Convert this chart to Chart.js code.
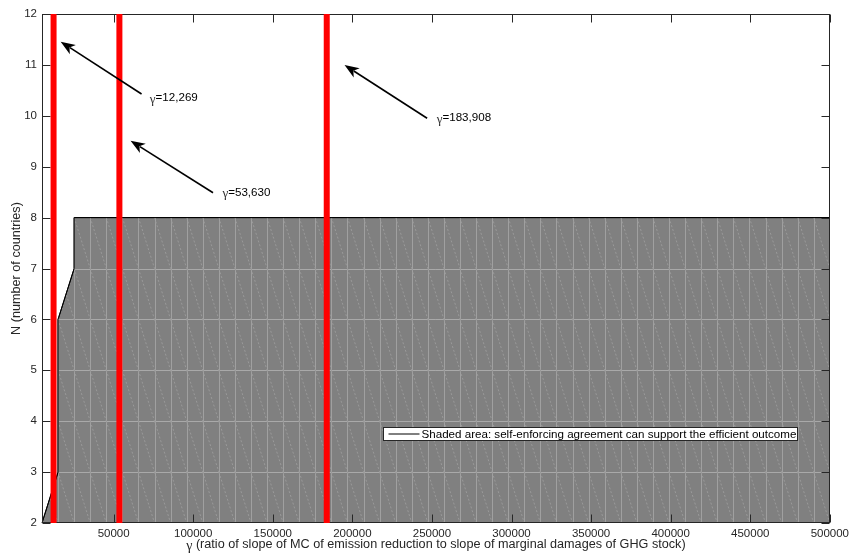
<!DOCTYPE html>
<html>
<head>
<meta charset="utf-8">
<script src="https://cdn.jsdelivr.net/npm/chart.js@4"></script>
<style>
  html, body { margin: 0; padding: 0; background: #ffffff; }
  #wrap { width: 853px; height: 556px; }
</style>
</head>
<body>
<div id="wrap"><canvas id="c" width="853" height="556"></canvas></div>
<script>
// Upper boundary of the region where a self-enforcing agreement supports the efficient outcome
const regionGamma = [5000, 15102, 15102, 25204, 25204, 500000];
const regionN = [2, 3, 6, 7, 8, 8];

// Critical values of gamma marked with vertical red lines
const thresholds = [12269, 53630, 183908];

// Axis ticks
const xTicks = [50000, 100000, 150000, 200000, 250000, 300000, 350000, 400000, 450000, 500000];
const yTicks = [2, 3, 4, 5, 6, 7, 8, 9, 10, 11, 12];

const X_MIN = 5000, X_MAX = 500000, Y_MIN = 2, Y_MAX = 12;
const AXIS_COLOR = '#262626';
const SANS = '"Liberation Sans", Arial, Helvetica, sans-serif';
const SERIF = '"Liberation Serif", "DejaVu Serif", serif';
const TICK_SIZE = 11.5;
const TITLE_SIZE = 12.65;
const NOTE_SIZE = 11.6;

// Arrow callouts (tip, tail and label anchor in data units), one per threshold
const callouts = [
  { tip: [16732, 11.456], tail: [67547, 10.428], label: [72754, 10.344] },
  { tip: [60646, 9.511], tail: [112467, 8.489], label: [118363, 8.489] },
  { tip: [195088, 10.998], tail: [246970, 9.951], label: [252993, 9.951] }
];

const fmt = v => v.toLocaleString('en-US');

const datasets = thresholds.map(g => ({
  type: 'line',
  label: 'gamma = ' + fmt(g),
  data: [{ x: g, y: Y_MIN }, { x: g, y: Y_MAX }],
  borderColor: '#ff0000',
  borderWidth: 6,
  pointRadius: 0,
  fill: false,
  order: 0
}));

datasets.push({
  type: 'line',
  label: 'Shaded area: self-enforcing agreement can support the efficient outcome',
  data: regionGamma.map((g, i) => ({ x: g, y: regionN[i] })),
  borderColor: '#000000',
  borderWidth: 1,
  backgroundColor: '#808080',
  pointRadius: 0,
  tension: 0,
  fill: 'start',
  order: 1,
  isRegion: true
});

function regionPath(ctx, xs, ys) {
  ctx.beginPath();
  ctx.moveTo(xs.getPixelForValue(regionGamma[0]), ys.getPixelForValue(Y_MIN));
  regionGamma.forEach((g, i) => ctx.lineTo(xs.getPixelForValue(g), ys.getPixelForValue(regionN[i])));
  ctx.lineTo(xs.getPixelForValue(regionGamma[regionGamma.length - 1]), ys.getPixelForValue(Y_MIN));
  ctx.closePath();
}

// Faceted texture of the filled patch, axes box and inward tick marks
const patchAndFrame = {
  id: 'patchAndFrame',
  afterDatasetDraw(chart, args) {
    if (!chart.data.datasets[args.index].isRegion) return;
    const ctx = chart.ctx, xs = chart.scales.x, ys = chart.scales.y;
    const a = chart.chartArea;

    ctx.save();
    regionPath(ctx, xs, ys);
    ctx.clip();
    const cols = 49;
    const step = (X_MAX - X_MIN) / cols;
    const yTop = Math.max(...regionN);
    ctx.lineWidth = 1;
    // horizontal facet edges
    ctx.strokeStyle = '#a9a9a9';
    for (let n = Y_MIN + 1; n < yTop; n++) {
      const y = Math.round(ys.getPixelForValue(n)) + 0.5;
      ctx.beginPath(); ctx.moveTo(a.left, y); ctx.lineTo(a.right, y); ctx.stroke();
    }
    // vertical facet edges
    ctx.strokeStyle = '#a0a0a0';
    for (let k = 1; k <= cols; k++) {
      const x = Math.round(xs.getPixelForValue(X_MIN + k * step)) + 0.5;
      ctx.beginPath(); ctx.moveTo(x, ys.getPixelForValue(Y_MIN)); ctx.lineTo(x, ys.getPixelForValue(yTop)); ctx.stroke();
    }
    // diagonal facet edges
    ctx.strokeStyle = '#999999';
    ctx.setLineDash([2, 2]);
    for (let k = 0; k < cols; k++) {
      const x0 = xs.getPixelForValue(X_MIN + k * step);
      const x1 = xs.getPixelForValue(X_MIN + (k + 1) * step);
      for (let n = Y_MIN; n < yTop; n++) {
        ctx.beginPath();
        ctx.moveTo(x0, ys.getPixelForValue(n + 1));
        ctx.lineTo(x1, ys.getPixelForValue(n));
        ctx.stroke();
      }
    }
    ctx.restore();

    // boundary redrawn over the texture
    ctx.save();
    ctx.strokeStyle = '#000000';
    ctx.lineWidth = 1;
    ctx.beginPath();
    regionGamma.forEach((g, i) => {
      const px = xs.getPixelForValue(g), py = ys.getPixelForValue(regionN[i]);
      if (i === 0) ctx.moveTo(px, ys.getPixelForValue(Y_MIN));
      ctx.lineTo(px, py);
    });
    ctx.stroke();
    ctx.restore();

    // axes box with inward ticks
    ctx.save();
    ctx.strokeStyle = AXIS_COLOR;
    ctx.lineWidth = 1;
    const L = Math.round(a.left) + 0.5, R = Math.round(a.right) - 0.5;
    const T = Math.round(a.top) + 0.5, B = Math.round(a.bottom) - 0.5;
    ctx.strokeRect(L, T, R - L, B - T);
    const tl = 8;
    ctx.beginPath();
    xTicks.forEach(v => {
      const x = Math.round(xs.getPixelForValue(v)) + 0.5;
      ctx.moveTo(x, B); ctx.lineTo(x, B - tl);
      ctx.moveTo(x, T); ctx.lineTo(x, T + tl);
    });
    yTicks.forEach(v => {
      const y = Math.round(ys.getPixelForValue(v)) + 0.5;
      ctx.moveTo(L, y); ctx.lineTo(L + tl, y);
      ctx.moveTo(R, y); ctx.lineTo(R - tl, y);
    });
    ctx.stroke();
    ctx.restore();
  },

  afterDraw(chart) {
    const ctx = chart.ctx, xs = chart.scales.x, ys = chart.scales.y;
    const a = chart.chartArea;

    // arrows and value labels
    callouts.forEach((c, i) => {
      const tx = xs.getPixelForValue(c.tip[0]), ty = ys.getPixelForValue(c.tip[1]);
      const sx = xs.getPixelForValue(c.tail[0]), sy = ys.getPixelForValue(c.tail[1]);
      const ang = Math.atan2(ty - sy, tx - sx);
      const hl = 13, hw = 5.5;
      const ca = Math.cos(ang), sa = Math.sin(ang);
      const bx = tx - hl * ca, by = ty - hl * sa;
      ctx.save();
      ctx.strokeStyle = '#000000';
      ctx.fillStyle = '#000000';
      ctx.lineWidth = 1.6;
      ctx.beginPath(); ctx.moveTo(sx, sy); ctx.lineTo(bx + 2 * ca, by + 2 * sa); ctx.stroke();
      const nx = -sa, ny = ca;
      ctx.beginPath();
      ctx.moveTo(tx, ty);
      ctx.lineTo(bx + nx * hw - 1.5 * ca, by + ny * hw - 1.5 * sa);
      ctx.lineTo(bx + 2.5 * ca, by + 2.5 * sa);
      ctx.lineTo(bx - nx * hw - 1.5 * ca, by - ny * hw - 1.5 * sa);
      ctx.closePath();
      ctx.fill();

      const lx = xs.getPixelForValue(c.label[0]), ly = ys.getPixelForValue(c.label[1]);
      ctx.textBaseline = 'middle';
      ctx.textAlign = 'left';
      ctx.font = '13px ' + SERIF;
      ctx.fillStyle = '#333333';
      ctx.fillText('\u03B3', lx, ly + 1);
      const gw = ctx.measureText('\u03B3').width;
      ctx.font = NOTE_SIZE + 'px ' + SANS;
      ctx.fillStyle = '#000000';
      ctx.fillText('=' + fmt(thresholds[i]), lx + gw, ly);
      ctx.restore();
    });

    // legend box
    const region = chart.data.datasets.find(d => d.isRegion);
    ctx.save();
    const bL = 383.5, bT = 427.5, bW = 414, bH = 13;
    ctx.fillStyle = '#ffffff';
    ctx.fillRect(bL, bT, bW, bH);
    ctx.strokeStyle = '#262626';
    ctx.lineWidth = 1;
    ctx.strokeRect(bL, bT, bW, bH);
    ctx.strokeStyle = '#000000';
    ctx.beginPath(); ctx.moveTo(bL + 5, bT + 6.5); ctx.lineTo(bL + 36, bT + 6.5); ctx.stroke();
    ctx.font = NOTE_SIZE + 'px ' + SANS;
    ctx.fillStyle = '#000000';
    ctx.textBaseline = 'middle';
    ctx.textAlign = 'left';
    ctx.fillText(region.label, bL + 38, bT + 7);
    ctx.restore();

    // axis titles
    ctx.save();
    ctx.fillStyle = AXIS_COLOR;
    ctx.textBaseline = 'middle';
    ctx.font = TITLE_SIZE + 'px ' + SANS;
    ctx.translate(17, (a.top + a.bottom) / 2);
    ctx.rotate(-Math.PI / 2);
    ctx.textAlign = 'center';
    ctx.fillText('N (number of countries)', 0, 0);
    ctx.restore();

    ctx.save();
    ctx.fillStyle = AXIS_COLOR;
    ctx.textBaseline = 'middle';
    ctx.textAlign = 'left';
    const rest = ' (ratio of slope of MC of emission reduction to slope of marginal damages of GHG stock)';
    ctx.font = '14px ' + SERIF;
    const gw = ctx.measureText('\u03B3').width;
    ctx.font = TITLE_SIZE + 'px ' + SANS;
    const rw = ctx.measureText(rest).width;
    const x0 = (a.left + a.right) / 2 - (gw + rw) / 2;
    ctx.font = '14px ' + SERIF;
    ctx.fillText('\u03B3', x0, 546);
    ctx.font = TITLE_SIZE + 'px ' + SANS;
    ctx.fillText(rest, x0 + gw, 545);
    ctx.restore();
  }
};

new Chart(document.getElementById('c'), {
  type: 'line',
  data: { datasets },
  options: {
    responsive: false,
    animation: false,
    layout: { padding: { left: 0, top: 14, right: 22, bottom: 0 } },
    plugins: { legend: { display: false }, tooltip: { enabled: false } },
    scales: {
      x: {
        type: 'linear',
        min: X_MIN,
        max: X_MAX,
        afterBuildTicks: s => { s.ticks = xTicks.map(v => ({ value: v })); },
        afterFit: s => { s.height = 33; },
        grid: { display: false, drawTicks: false },
        border: { display: false },
        ticks: {
          autoSkip: false,
          maxRotation: 0,
          padding: 4,
          color: AXIS_COLOR,
          font: { family: SANS, size: TICK_SIZE },
          callback: v => String(v)
        }
      },
      y: {
        type: 'linear',
        min: Y_MIN,
        max: Y_MAX,
        afterBuildTicks: s => { s.ticks = yTicks.map(v => ({ value: v })); },
        afterFit: s => { s.width = 42; },
        grid: { display: false, drawTicks: false },
        border: { display: false },
        ticks: {
          padding: 5,
          color: AXIS_COLOR,
          font: { family: SANS, size: TICK_SIZE },
          callback: v => String(v)
        }
      }
    }
  },
  plugins: [patchAndFrame]
});
</script>
</body>
</html>
